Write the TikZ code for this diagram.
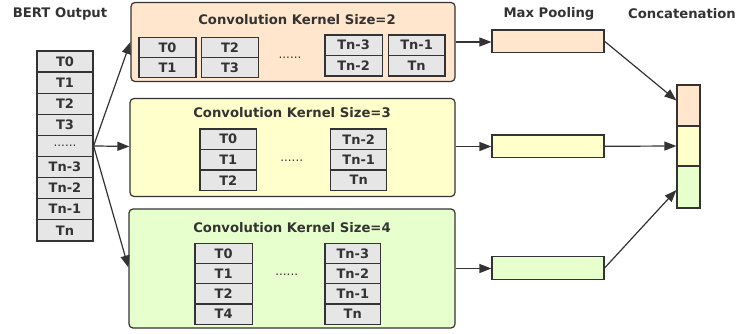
\documentclass[tikz,border=0pt]{standalone}
\usepackage{fontspec}
\setmainfont{DejaVu Sans}
\usetikzlibrary{arrows.meta,calc}
\definecolor{strk}{HTML}{333333}
\definecolor{cellc}{HTML}{E6E6E6}
\definecolor{orc}{HTML}{FFE6CC}
\definecolor{yec}{HTML}{FFFFCC}
\definecolor{grc}{HTML}{E6FFCC}
\definecolor{txtc}{HTML}{333333}
\newcommand{\sixdots}{......}
\tikzset{
  cell/.style={draw=strk, line width=1.2pt, fill=cellc, inner sep=0pt, minimum width=#1, text=txtc, font=\bfseries\fontsize{13}{14}\selectfont},
  cell/.default=56pt,
  cbox/.style={draw=strk, line width=1.2pt, rounded corners=4pt, inner sep=0pt},
  pool/.style={draw=strk, line width=1.2pt, inner sep=0pt, minimum width=112pt, minimum height=22.5pt},
  cat/.style={draw=strk, line width=1.2pt, inner sep=0pt, minimum width=23pt},
  title/.style={text=txtc, font=\bfseries\fontsize{13.2}{15}\selectfont, inner sep=0pt},
  dots/.style={text=txtc, font=\fontsize{12}{13}\selectfont, inner sep=0pt},
  arr/.style={draw=strk, line width=1.2pt, -{Triangle[length=12pt,width=9pt]}},
}
\begin{document}
\begin{tikzpicture}[x=1pt,y=-1pt]
\useasboundingbox (0,0) rectangle (744,334);
% BERT column
\node[title] (bertlbl) at (60,14) {BERT Output};
\foreach \t [count=\i from 0] in {T0,T1,T2,T3,{\mdseries\fontsize{12}{13}\selectfont\sixdots},Tn-3,Tn-2,Tn-1,Tn}{
  \node[cell, minimum height=21.1pt] (b\i) at (65,{51+21.1*\i+10.55}) {\t};
}
% boxes
\node[cbox, fill=orc, minimum width=324pt, minimum height=79pt] (box1) at (293,42) {};
\node[cbox, fill=yec, minimum width=325pt, minimum height=98pt] (box2) at (292.5,147.5) {};
\node[cbox, fill=grc, minimum width=326pt, minimum height=119pt] (box3) at (292,268.5) {};
\node[title] (t1) at (297,20) {Convolution Kernel Size=2};
\node[title] (t2) at (292,113) {Convolution Kernel Size=3};
\node[title] (t3) at (292,228) {Convolution Kernel Size=4};
% box1 cells
\foreach \t [count=\i from 0] in {T0,T1}{
  \node[cell=57pt, minimum height=20.2pt] (ka\i) at (167.5,{37.3+20.2*\i+10.1}) {\t};}
\foreach \t [count=\i from 0] in {T2,T3}{
  \node[cell=56.6pt, minimum height=20.2pt] (kb\i) at (230,{37.3+20.2*\i+10.1}) {\t};}
\foreach \t [count=\i from 0] in {Tn-3,Tn-2}{
  \node[cell=57.3pt, minimum height=20.5pt] (kc\i) at (353.6,{35+20.5*\i+10.25}) {\t};}
\foreach \t [count=\i from 0] in {Tn-1,Tn}{
  \node[cell=56.7pt, minimum height=20.5pt] (kd\i) at (416.6,{35+20.5*\i+10.25}) {\t};}
\node[dots] (d1) at (290,58) {\sixdots};
% box2 cells
\foreach \t [count=\i from 0] in {T0,T1,T2}{
  \node[cell=56.7pt, minimum height=20.5pt] (la\i) at (228.3,{129+20.5*\i+10.25}) {\t};}
\foreach \t [count=\i from 0] in {Tn-2,Tn-1,Tn}{
  \node[cell=56pt, minimum height=20.5pt] (lb\i) at (358.7,{129+20.5*\i+10.25}) {\t};}
\node[dots] (d2) at (291.7,161) {\sixdots};
% box3 cells
\foreach \t [count=\i from 0] in {T0,T1,T2,T4}{
  \node[cell=57.3pt, minimum height=20.25pt] (ma\i) at (223.6,{243.3+20.25*\i+10.125}) {\t};}
\foreach \t [count=\i from 0] in {Tn-3,Tn-2,Tn-1,Tn}{
  \node[cell=55.7pt, minimum height=20.25pt] (mb\i) at (352.8,{243.3+20.25*\i+10.125}) {\t};}
\node[dots] (d3) at (286.7,274.5) {\sixdots};
% pooling
\node[title] (mplbl) at (549,13.5) {Max Pooling};
\node[pool, fill=orc] (mp1) at (548,41.3) {};
\node[pool, fill=yec] (mp2) at (548,146.3) {};
\node[pool, fill=grc] (mp3) at (548,268) {};
% concatenation
\node[title] (catlbl) at (682,13.5) {Concatenation};
\node[cat, fill=orc, minimum height=41pt] (c1) at (688.5,105.5) {};
\node[cat, fill=yec, minimum height=40pt] (c2) at (688.5,146) {};
\node[cat, fill=grc, minimum height=42pt] (c3) at (688.5,187) {};
% arrows
\coordinate (src) at (b4.east);
\draw[arr] (src) -- (box1.west);
\draw[arr] (src) -- ([yshift=1pt]box2.west);
\draw[arr] (src) -- ([yshift=1pt]box3.west);
\draw[arr] (box1.east) -- (box1.east -| mp1.west);
\draw[arr] ([yshift=1pt]box2.east) -- ([yshift=1pt]box2.east -| mp2.west);
\draw[arr] (box3.east) -- (box3.east -| mp3.west);
\draw[arr] (mp1.east) -- ([yshift=5pt]c1.west);
\draw[arr] (mp2.east) -- (c2.west);
\draw[arr] (mp3.east) -- ([yshift=-3pt]c3.west);
\end{tikzpicture}
\end{document}
